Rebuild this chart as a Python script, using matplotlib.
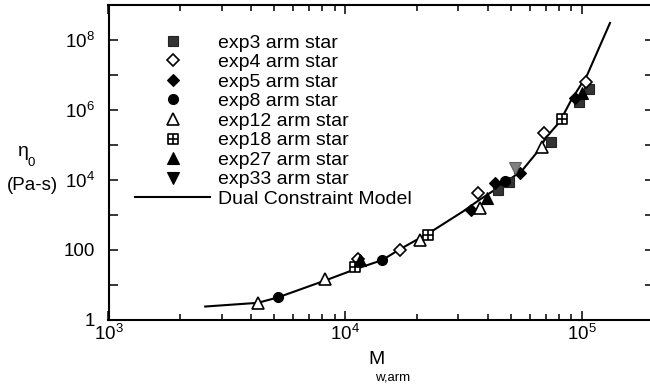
import matplotlib
matplotlib.use('Agg')
from matplotlib import pyplot as plt
from matplotlib.path import Path
from matplotlib.ticker import FixedLocator, LogLocator, NullLocator
import numpy as np

plt.rcParams['font.family'] = ['Liberation Sans', 'DejaVu Sans']
plt.rcParams['mathtext.fontset'] = 'custom'
plt.rcParams['mathtext.rm'] = 'Liberation Sans'
plt.rcParams['mathtext.it'] = 'Liberation Sans:italic'

# zero-shear viscosity vs arm molecular weight, one list pair per arm number
exp3_m = [44000, 49000, 74000, 97000, 107000]
exp3_eta = [5000, 8500, 1.2e5, 1.7e6, 4.0e6]

exp4_m = [11300, 17000, 36300, 69000, 104000]
exp4_eta = [55, 100, 4200, 2.2e5, 6.3e6]

exp5_m = [34000, 42700, 54500, 93000]
exp5_eta = [1400, 8200, 16000, 2.2e6]

exp8_m = [5200, 14300, 47000]
exp8_eta = [4.5, 52, 9500]

exp12_m = [4270, 8200, 20600, 37000, 67900]
exp12_eta = [3.0, 14.5, 193, 1600, 8.5e4]

exp18_m = [11000, 22300, 82000]
exp18_eta = [32, 268, 5.3e5]

exp27_m = [11500, 39500, 100000]
exp27_eta = [52, 3000, 3.0e6]

exp33_m = [51900]
exp33_eta = [22000]

# dual constraint model curve
model_m = [2560, 4270, 5200, 8200, 11100, 14300, 16900, 23100, 31300, 36900,
           46200, 56100, 64200, 70800, 80300, 90000, 105000, 131000]
model_eta = [2.35, 3.0, 4.3, 13, 28, 50, 100, 330, 1220, 2680,
             7200, 1.93e4, 5.9e4, 1.7e5, 4.5e5, 1.93e6, 1e7, 3.06e8]

# square with a cross inside
grid_sq = Path([(-1, -1), (1, -1), (1, 1), (-1, 1), (-1, -1),
                (0, -1), (0, 1), (-1, 0), (1, 0)],
               [Path.MOVETO, Path.LINETO, Path.LINETO, Path.LINETO, Path.CLOSEPOLY,
                Path.MOVETO, Path.LINETO, Path.MOVETO, Path.LINETO])

fig = plt.figure(figsize=(6.5, 3.88), dpi=100)
ax = fig.add_axes([108.5/650, 1-319.5/388, 545/650, 314.5/388])

ax.plot(model_m, model_eta, '-', color='k', lw=1.5, zorder=2, label='Dual Constraint Model')

ew = 1.2
ax.plot(exp3_m, exp3_eta, 's', ms=7.5, mfc='#333333', mec='#222222', mew=0.8, ls='none', zorder=3, label='exp3 arm star')
ax.plot(exp4_m, exp4_eta, 'D', ms=6.3, mfc='white', mec='k', mew=ew, ls='none', zorder=3, label='exp4 arm star')
ax.plot(exp5_m, exp5_eta, 'D', ms=6.3, mfc='k', mec='k', mew=0.8, ls='none', zorder=3, label='exp5 arm star')
ax.plot(exp8_m, exp8_eta, 'o', ms=7.2, mfc='k', mec='k', mew=0.8, ls='none', zorder=3, label='exp8 arm star')
ax.plot(exp12_m, exp12_eta, '^', ms=9, mfc='white', mec='k', mew=ew, ls='none', zorder=3, label='exp12 arm star')
ax.plot(exp18_m, exp18_eta, marker=grid_sq, ms=6.8, mfc='white', mec='k', mew=ew, ls='none', zorder=3, label='exp18 arm star')
ax.plot(exp27_m, exp27_eta, '^', ms=9, mfc='k', mec='k', mew=0.8, ls='none', zorder=3, label='exp27 arm star')
ax.plot(exp33_m, exp33_eta, 'v', ms=9, mfc='#808080', mec='#606060', mew=0.8, ls='none', zorder=3, label='exp33 arm star')

ax.set_xscale('log')
ax.set_yscale('log')
ax.set_xlim(1e3, 2e5)
ax.set_ylim(1, 1e9)

ax.xaxis.set_major_locator(FixedLocator([1e3, 1e4, 1e5]))
ax.xaxis.set_minor_locator(LogLocator(base=10, subs=np.arange(2, 10), numticks=20))
ax.set_xticklabels([r'$\mathregular{10^{3}}$', r'$\mathregular{10^{4}}$', r'$\mathregular{10^{5}}$'])

ylabels = ['1', '', '100', '', r'$\mathregular{10^{4}}$', '', r'$\mathregular{10^{6}}$', '',
           r'$\mathregular{10^{8}}$', '']
ax.yaxis.set_major_locator(FixedLocator([10.0**k for k in range(10)]))
ax.yaxis.set_minor_locator(NullLocator())
ax.set_yticklabels(ylabels)

ax.tick_params(which='both', direction='in', top=True, right=True, width=1.1)
ax.tick_params(which='major', length=6.5)
ax.tick_params(which='minor', length=4.5)
ax.tick_params(axis='y', pad=10, labelsize=13.5)
ax.tick_params(axis='x', pad=3, labelsize=13.5)
for s in ax.spines.values():
    s.set_linewidth(1.5)

# axis titles with hand placed subscripts
fig.text(23/650, 1-152/388, 'η', fontsize=14, ha='center', va='center')
fig.text(31/650, 1-163/388, '0', fontsize=9.5, ha='center', va='center')
fig.text(32/650, 1-185/388, '(Pa-s)', fontsize=13.5, ha='center', va='center')
fig.text(376/650, 1-359/388, 'M', fontsize=14, ha='center', va='center')
fig.text(393/650, 1-378/388, 'w,arm', fontsize=9.5, ha='center', va='center')

h, l = ax.get_legend_handles_labels()
order = [1, 2, 3, 4, 5, 6, 7, 8, 0]
leg = fig.legend([h[i] for i in order], [l[i] for i in order],
                 loc='upper left', bbox_to_anchor=(135/650, 1-34/388),
                 frameon=False, fontsize=14, borderpad=0, borderaxespad=0,
                 handlelength=3.86, handletextpad=0.4, labelspacing=0.1,
                 numpoints=1)
leg.legend_handles[7].set_markerfacecolor('k')
leg.legend_handles[7].set_markeredgecolor('k')

fig.savefig('out.png', dpi=100)
